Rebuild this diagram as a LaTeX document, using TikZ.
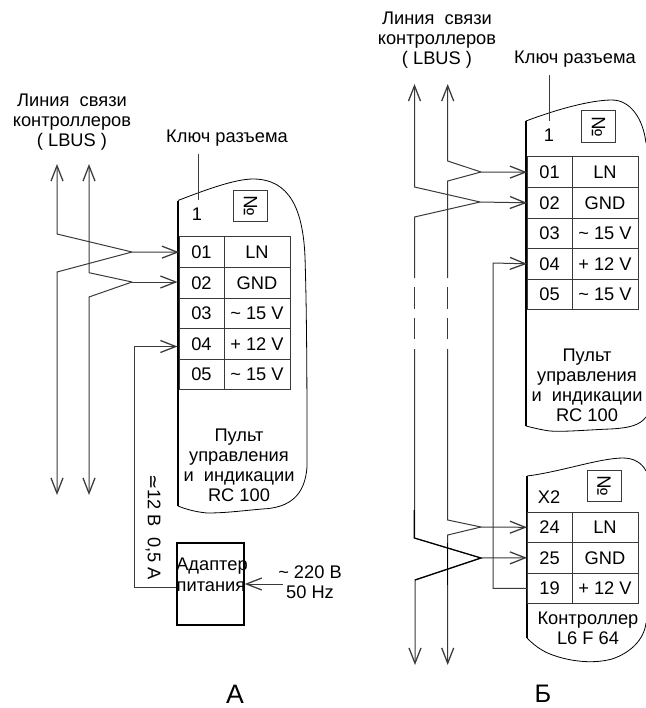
\documentclass[tikz,border=0pt]{standalone}
\usepackage{fontspec}
\setmainfont{Liberation Sans}
\newfontfamily\symfont{DejaVu Sans}
\usetikzlibrary{arrows.meta}
\definecolor{ln}{HTML}{3A3A3A}
\tikzset{
  wire/.style={draw=ln,line width=0.75pt},
  barb/.style={wire,{Straight Barb[length=11.5pt,width=9pt,line width=0.95pt]}-},
  barbend/.style={wire,-{Straight Barb[length=11.5pt,width=9pt,line width=0.95pt]}},
  spine/.style={draw=black,line width=1.7pt},
  outline/.style={draw=black,line width=0.6pt},
  colA/.style={draw=ln,line width=0.7pt,minimum width=33.75pt,minimum height=22.9pt,inner sep=0pt,outer sep=0pt,font=\fontsize{13.7}{15}\selectfont},
  colB/.style={draw=ln,line width=0.7pt,minimum width=49.5pt,minimum height=22.9pt,inner sep=0pt,outer sep=0pt,font=\fontsize{13.7}{15}\selectfont},
  txt/.style={inner sep=0pt,font=\fontsize{13.7}{15}\selectfont},
  numbox/.style={draw=ln,line width=0.7pt,minimum width=25.5pt,minimum height=23.5pt,inner sep=0pt,font=\fontsize{14.5}{15}\selectfont},
  bigA/.style={inner sep=0pt,font=\fontsize{20}{24}\selectfont},
  bigB/.style={inner sep=0pt,font=\fontsize{19}{24}\selectfont}
}
\begin{document}
\begin{tikzpicture}[x=0.75pt,y=-0.75pt]
\useasboundingbox (0,0) rectangle (646,708);

% ---------- Panel A ----------
\draw[outline] (178,200.5) .. controls (205,190) and (235,179) .. (253,179)
  .. controls (290,179) and (303,210) .. (305,257)
  .. controls (307,320) and (307,400) .. (307,467)
  .. controls (305,495) and (290,508) .. (262,509)
  .. controls (240,511) and (225,513) .. (207,513)
  .. controls (197,512) and (188,510) .. (178,506);
\draw[spine] (178,200.5) -- (178,506);
\foreach \n/\a/\y in {01/LN/252.2,02/GND/283,03/\textasciitilde{} 15 V/313.5,04/+ 12 V/344,05/\textasciitilde{} 15 V/374.3}{
  \node[colA] (a\n) at (201.5,\y) {\n};
  \node[colB] (v\n) at (257,\y) {\a};
}
\node[numbox] (anum) at (250.5,206) {\rotatebox{-90}{№}};
\node[txt] (aone) at (197,214) {1};
\node[txt] (akey) at (227,138) {Ключ разъема};
\coordinate (akeyt) at (198,154);
\coordinate (akeyb) at (198,200);
\draw[draw=ln,line width=0.7pt] (akeyt) -- (akeyb);
\node[txt,align=center] (abus) at (72,122) {Линия\ \ связи\\контроллеров\\( LBUS )};
\node[txt,align=center] (apanel) at (239,465) {Пульт\\управления\\и\ \ индикации\\RC 100};

\coordinate (at1) at (57,164); \coordinate (at2) at (89,164);
\coordinate (ab1) at (57,495); \coordinate (ab2) at (89,495);
\coordinate (aj1) at (132,252); \coordinate (aj2) at (132,282);
\draw[barb] (at1) -- (57,234) -- (aj1);
\draw[barb] (ab1) -- (57,272) -- (aj1);
\draw[barb] (at2) -- (89,272.7) -- (aj2);
\draw[barb] (ab2) -- (89,297) -- (aj2);
\draw[barbend] (aj1) -- (a01.west);
\draw[barbend] (aj2) -- (177.5,282);

\node[draw=black,line width=1.3pt,minimum width=50pt,minimum height=61.5pt,inner sep=0pt] (adapter) at (210.5,584) {};
\node[txt] (adt1) at (212,566) {Адаптер};
\node[txt] (adt2) at (211,587) {питания};
\coordinate (acorner) at (134,587);
\draw[barbend] (adapter.west |- acorner) -- (acorner) -- (134,346.5) -- (177.5,346.5);
\coordinate (apwr) at (283,584);
\draw[barbend] (apwr) -- (adapter.east);
\node[txt,align=center] (amains) at (310,582) {\textasciitilde{} 220 В\\50 Hz};
\node[txt,rotate=-90] (avolt) at (153,527) {{\symfont ≃}12 В\ \ 0,5 А};
\node[bigA] (alabel) at (235,694) {А};

% ---------- Panel B, upper ----------
\draw[outline] (526,121) .. controls (555,110) and (590,100) .. (612,100)
  .. controls (630,100) and (643,118) .. (646,143);
\draw[outline] (646,417) .. controls (640,425) and (630,428) .. (610,429)
  .. controls (585,430) and (565,432) .. (550,431)
  .. controls (542,430) and (534,428) .. (526,426);
\draw[spine] (526,121) -- (526,426);
\foreach \n/\a/\y in {01/LN/172.2,02/GND/202.8,03/\textasciitilde{} 15 V/233.3,04/+ 12 V/263.8,05/\textasciitilde{} 15 V/294.5}{
  \node[colA] (b\n) at (549.5,\y) {\n};
  \node[colB] (w\n) at (605,\y) {\a};
}
\node[numbox] (bnum) at (598.5,126.5) {\rotatebox{-90}{№}};
\node[txt] (bone) at (549,135) {1};
\node[txt] (bkey) at (575,59) {Ключ разъема};
\coordinate (bkeyt) at (549,75);
\coordinate (bkeyb) at (549,121);
\draw[draw=ln,line width=0.7pt] (bkeyt) -- (bkeyb);
\node[txt,align=center] (bbus) at (437,40) {Линия\ \ связи\\контроллеров\\( LBUS )};
\node[txt,align=center] (bpanel) at (587,385.5) {Пульт\\управления\\и\ \ индикации\\RC 100};

% ---------- Panel B, lower ----------
\draw[outline] (527,476) .. controls (560,472) and (600,458) .. (623,458)
  .. controls (634,458) and (642,463) .. (646,471);
\draw[outline] (646,623) .. controls (644,640) and (630,653) .. (612,659)
  .. controls (590,665) and (565,660) .. (550,654)
  .. controls (540,650) and (533,644) .. (527,638);
\draw[spine] (527,476) -- (527,638);
\foreach \n/\a/\y in {24/LN/527.3,25/GND/557.8,19/+ 12 V/588.3}{
  \node[colA] (c\n) at (549.5,\y) {\n};
  \node[colB] (x\n) at (605,\y) {\a};
}
\node[numbox] (cnum) at (604,486) {\rotatebox{-90}{№}};
\node[txt] (cx) at (549,497) {X2};
\node[txt,align=center] (cctrl) at (588,628.5) {Контроллер\\L6 F 64};
\node[bigB] (blabel) at (543,694) {Б};

% ---------- Panel B, wires ----------
\coordinate (bt1) at (414.5,84); \coordinate (bt2) at (447.7,84);
\coordinate (bb1) at (415,665); \coordinate (bb2) at (447.7,665);
\coordinate (bj1) at (481,172); \coordinate (bj2) at (480,202);
\coordinate (bj3) at (481,527); \coordinate (bj4) at (481,558);
\draw[barb] (bt2) -- (447.7,161) -- (bj1);
\draw[wire] (bj1) -- (447.7,181) -- (447.7,278);
\draw[barb] (bt1) -- (414.5,187) -- (bj2);
\draw[wire] (bj2) -- (414.5,217) -- (414.5,278);
\foreach \xx in {414.5,447.7}{
  \draw[wire] (\xx,287) -- (\xx,309);
  \draw[wire] (\xx,318) -- (\xx,339);
}
\draw[wire] (447.7,349) -- (447.7,520) -- (bj3);
\draw[barb] (bb2) -- (447.7,535) -- (bj3);
\draw[wire] (414.5,349) -- (414.5,538) -- (bj4);
\draw[barb] (bb1) -- (415,580) -- (bj4);
\draw[draw=black,line width=0.85pt] (414.3,510) -- (414.3,538) -- (bj4) -- (415,580);
\draw[draw=black,line width=0.85pt] (447.7,543) -- (447.7,585);
\draw[barbend] (bj1) -- (b01.west);
\draw[barbend] (bj2) -- (b02.west);
\draw[barbend] (bj3) -- (c24.west);
\draw[barbend] (bj4) -- (c25.west);
\draw[barbend] (c19.west) -- (c19.west -| 493,0) -- (493,263) -- (b04.west);
\end{tikzpicture}
\end{document}
